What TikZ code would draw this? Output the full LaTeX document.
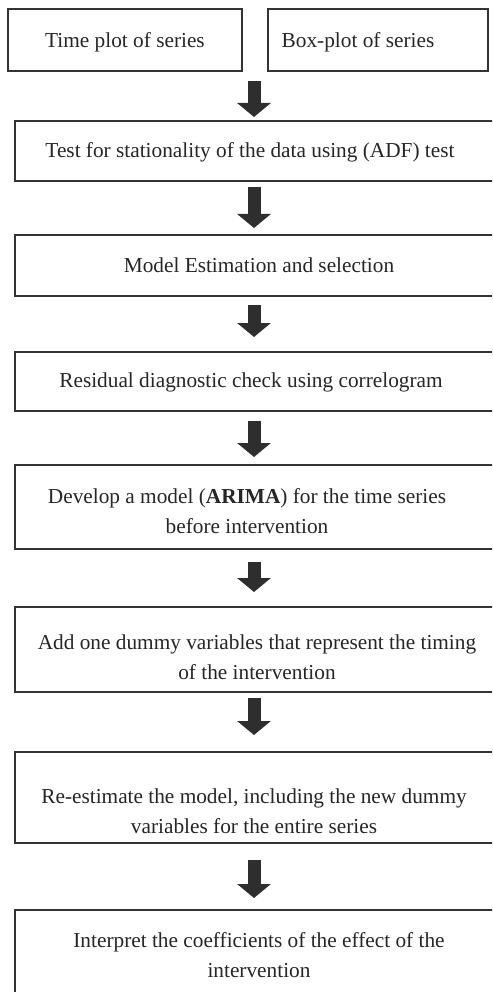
\documentclass[tikz,border=0pt]{standalone}
\usepackage{fontspec}
\setmainfont{Liberation Serif}
\usetikzlibrary{arrows.meta,calc}
\tikzset{
  box/.style={draw=black!80, line width=1.2pt, inner sep=0pt, outer sep=0pt, fill=white},
  txt/.style={inner sep=0pt, outer sep=0pt, text=black!85, align=center,
    font=\fontsize{21.3}{29.5}\selectfont},
  bigarrow/.style={line width=13pt, draw=black!82,
    -{Triangle[width=33pt,length=14pt]}}
}
\begin{document}
\begin{tikzpicture}[x=1pt,y=-1pt]
\useasboundingbox (0,0) rectangle (492,992);
\clip (0,0) rectangle (492,992);
\fill[white] (0,0) rectangle (492,992);
\coordinate (col) at (254,0);
% boxes
\node[box, minimum width=234pt, minimum height=62pt] (A) at (125,40) {};
\node[box, minimum width=220pt, minimum height=62pt] (B) at (378,40) {};
\node[box, minimum width=490pt, minimum height=60pt] (b2) at (260,151) {};
\node[box, minimum width=490pt, minimum height=61pt] (b3) at (260,265.5) {};
\node[box, minimum width=490pt, minimum height=59pt] (b4) at (260,381.5) {};
\node[box, minimum width=490pt, minimum height=84pt] (b5) at (260,507) {};
\node[box, minimum width=490pt, minimum height=85pt] (b6) at (260,649.5) {};
\node[box, minimum width=490pt, minimum height=91pt] (b7) at (260,797.5) {};
\node[box, minimum width=490pt, minimum height=100pt] (b8) at (260,960) {};
% texts
\node[txt] (tA) at (125,42) {Time plot of series};
\node[txt] (tB) at (358,42) {Box-plot of series};
\node[txt] (t2) at (250,152) {Test for stationality of the data using (ADF) test};
\node[txt] (t3) at (259,265) {Model Estimation and selection};
\node[txt] (t4) at (251,382) {Residual diagnostic check using correlogram};
\node[txt] (t5) at (247,511) {Develop a model (\textbf{ARIMA}) for the time series\\before intervention};
\node[txt] (t6) at (257,657) {Add one dummy variables that represent the timing\\of the intervention};
\node[txt] (t7) at (254,811) {Re-estimate the model, including the new dummy\\variables for the entire series};
\node[txt] (t8) at (259,955) {Interpret the coefficients of the effect of the\\intervention};
% arrows
\draw[bigarrow] ($(A.south -| col)+(0,10)$) -- ($(b2.north -| col)+(0,-4)$);
\draw[bigarrow] ($(b2.south -| col)+(0,6)$) -- ($(b3.north -| col)+(0,-7)$);
\draw[bigarrow] ($(b3.south -| col)+(0,9)$) -- ($(b4.north -| col)+(0,-15)$);
\draw[bigarrow] ($(b4.south -| col)+(0,10)$) -- ($(b5.north -| col)+(0,-8)$);
\draw[bigarrow] ($(b5.south -| col)+(0,13)$) -- ($(b6.north -| col)+(0,-15)$);
\draw[bigarrow] ($(b6.south -| col)+(0,6)$) -- ($(b7.north -| col)+(0,-17)$);
\draw[bigarrow] ($(b7.south -| col)+(0,17)$) -- ($(b8.north -| col)+(0,-12)$);
\end{tikzpicture}
\end{document}
